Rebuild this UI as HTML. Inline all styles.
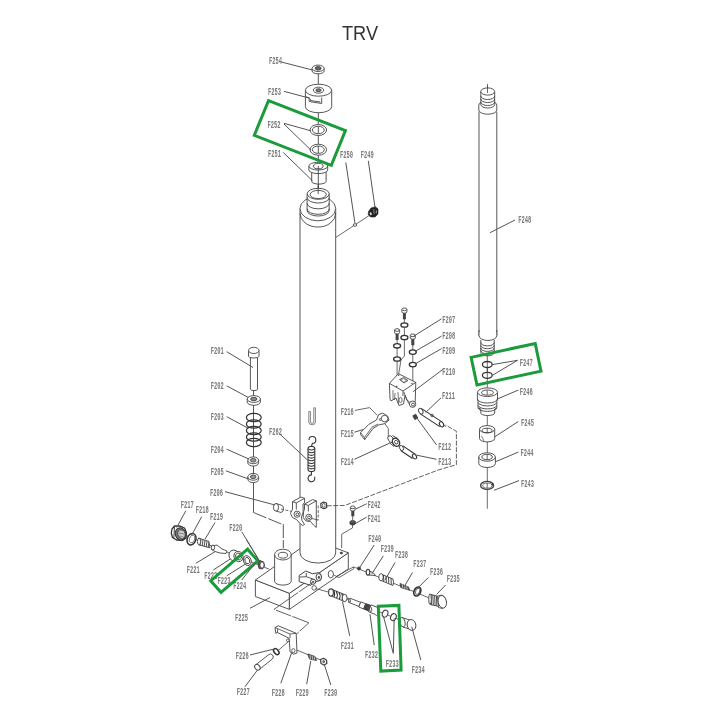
<!DOCTYPE html>
<html><head><meta charset="utf-8"><style>
html,body{margin:0;padding:0;background:#fff;width:720px;height:720px;overflow:hidden}
svg{display:block}
.lab text{font-family:"Liberation Mono",monospace;font-weight:bold;font-size:10.5px;fill:#7a7a7a}
</style></head><body>
<svg width="720" height="720" viewBox="0 0 720 720" style="will-change:transform">
<rect width="720" height="720" fill="#fff"/>
<text x="342" y="40.3" textLength="36" lengthAdjust="spacingAndGlyphs" style='font-family:"Liberation Sans",sans-serif;font-size:20.3px;fill:#333'>TRV</text>
<g class="lab">
<text x="269" y="64" textLength="13" lengthAdjust="spacingAndGlyphs">F254</text>
<text x="268" y="95" textLength="13" lengthAdjust="spacingAndGlyphs">F253</text>
<text x="267.5" y="127.5" textLength="13" lengthAdjust="spacingAndGlyphs">F252</text>
<text x="268" y="156.7" textLength="13" lengthAdjust="spacingAndGlyphs">F251</text>
<text x="340" y="158.3" textLength="13" lengthAdjust="spacingAndGlyphs">F250</text>
<text x="360.8" y="158.3" textLength="13" lengthAdjust="spacingAndGlyphs">F249</text>
<text x="518.3" y="223" textLength="13" lengthAdjust="spacingAndGlyphs">F248</text>
<text x="210.8" y="354" textLength="13" lengthAdjust="spacingAndGlyphs">F201</text>
<text x="210.8" y="389" textLength="13" lengthAdjust="spacingAndGlyphs">F202</text>
<text x="210.8" y="420" textLength="13" lengthAdjust="spacingAndGlyphs">F203</text>
<text x="210.8" y="452.5" textLength="13" lengthAdjust="spacingAndGlyphs">F204</text>
<text x="210.8" y="475" textLength="13" lengthAdjust="spacingAndGlyphs">F205</text>
<text x="210" y="495.8" textLength="13" lengthAdjust="spacingAndGlyphs">F206</text>
<text x="269" y="434.5" textLength="13" lengthAdjust="spacingAndGlyphs">F262</text>
<text x="442.2" y="322.9" textLength="13" lengthAdjust="spacingAndGlyphs">F207</text>
<text x="442.2" y="338.9" textLength="13" lengthAdjust="spacingAndGlyphs">F208</text>
<text x="442.2" y="354.2" textLength="13" lengthAdjust="spacingAndGlyphs">F209</text>
<text x="442.2" y="375" textLength="13" lengthAdjust="spacingAndGlyphs">F210</text>
<text x="442" y="399" textLength="13" lengthAdjust="spacingAndGlyphs">F211</text>
<text x="438.3" y="450.3" textLength="13" lengthAdjust="spacingAndGlyphs">F212</text>
<text x="438.3" y="464.5" textLength="13" lengthAdjust="spacingAndGlyphs">F213</text>
<text x="340.8" y="464.5" textLength="13" lengthAdjust="spacingAndGlyphs">F214</text>
<text x="340.8" y="436.7" textLength="13" lengthAdjust="spacingAndGlyphs">F215</text>
<text x="340.8" y="415" textLength="13" lengthAdjust="spacingAndGlyphs">F216</text>
<text x="519.7" y="365.8" textLength="13" lengthAdjust="spacingAndGlyphs">F247</text>
<text x="519.7" y="395" textLength="13" lengthAdjust="spacingAndGlyphs">F246</text>
<text x="521" y="426.4" textLength="13" lengthAdjust="spacingAndGlyphs">F245</text>
<text x="520.4" y="456.3" textLength="13" lengthAdjust="spacingAndGlyphs">F244</text>
<text x="521" y="486.8" textLength="13" lengthAdjust="spacingAndGlyphs">F243</text>
<text x="367.5" y="508.3" textLength="13" lengthAdjust="spacingAndGlyphs">F242</text>
<text x="367.5" y="521.7" textLength="13" lengthAdjust="spacingAndGlyphs">F241</text>
<text x="368.3" y="541.7" textLength="13" lengthAdjust="spacingAndGlyphs">F240</text>
<text x="380.8" y="551.7" textLength="13" lengthAdjust="spacingAndGlyphs">F239</text>
<text x="395" y="557.5" textLength="13" lengthAdjust="spacingAndGlyphs">F238</text>
<text x="413.3" y="566.7" textLength="13" lengthAdjust="spacingAndGlyphs">F237</text>
<text x="430" y="575" textLength="13" lengthAdjust="spacingAndGlyphs">F236</text>
<text x="446.7" y="581.7" textLength="13" lengthAdjust="spacingAndGlyphs">F235</text>
<text x="180.8" y="507.5" textLength="13" lengthAdjust="spacingAndGlyphs">F217</text>
<text x="195.8" y="513.3" textLength="13" lengthAdjust="spacingAndGlyphs">F218</text>
<text x="210" y="520" textLength="13" lengthAdjust="spacingAndGlyphs">F219</text>
<text x="229.2" y="530.8" textLength="13" lengthAdjust="spacingAndGlyphs">F220</text>
<text x="186.7" y="572.5" textLength="13" lengthAdjust="spacingAndGlyphs">F221</text>
<text x="204.2" y="579.2" textLength="13" lengthAdjust="spacingAndGlyphs">F222</text>
<text x="217.5" y="584.2" textLength="13" lengthAdjust="spacingAndGlyphs">F223</text>
<text x="233.3" y="589.2" textLength="13" lengthAdjust="spacingAndGlyphs">F224</text>
<text x="235" y="620.8" textLength="13" lengthAdjust="spacingAndGlyphs">F225</text>
<text x="235.8" y="659.2" textLength="13" lengthAdjust="spacingAndGlyphs">F226</text>
<text x="236.7" y="695" textLength="13" lengthAdjust="spacingAndGlyphs">F227</text>
<text x="271.7" y="695.8" textLength="13" lengthAdjust="spacingAndGlyphs">F228</text>
<text x="295.8" y="695.8" textLength="13" lengthAdjust="spacingAndGlyphs">F229</text>
<text x="324.2" y="695.8" textLength="13" lengthAdjust="spacingAndGlyphs">F230</text>
<text x="340.8" y="649.2" textLength="13" lengthAdjust="spacingAndGlyphs">F231</text>
<text x="365" y="658.3" textLength="13" lengthAdjust="spacingAndGlyphs">F232</text>
<text x="385.8" y="666.7" textLength="13" lengthAdjust="spacingAndGlyphs">F233</text>
<text x="411.7" y="673.3" textLength="13" lengthAdjust="spacingAndGlyphs">F234</text>
</g>
<g stroke="#444" stroke-width="0.9" fill="#fff" stroke-linejoin="round">
<!-- ===== axis lines top column ===== -->
<line x1="318.3" y1="72" x2="318.3" y2="194" fill="none"/>
<!-- F254 nut -->
<path d="M312.1,68.3 L312.1,71 A6,2.8 0 0 0 324.2,71 L324.2,68.3"/>
<ellipse cx="318.1" cy="68.3" rx="6" ry="3.2"/>
<ellipse cx="318.1" cy="68.3" rx="3" ry="1.8" fill="#666"/>
<!-- F253 -->
<path d="M305.4,90.2 L305.4,106.7 A13.1,6 0 0 0 331.7,106.7 L331.7,90.2"/>
<ellipse cx="318.5" cy="90.2" rx="13.1" ry="6"/>
<ellipse cx="318.5" cy="90.2" rx="5.2" ry="3"/>
<ellipse cx="318.5" cy="90.2" rx="2.6" ry="1.5" fill="#777"/>
<path d="M305.8,96.7 L309.2,97.9 L309.2,101.5 L321.7,103.5 L321.7,97.5" fill="none"/>
<path d="M310.5,99 L310.5,100.5 L320.3,102" fill="none"/>
<!-- F252 rings -->
<ellipse cx="318.3" cy="130" rx="8.3" ry="5.5"/>
<ellipse cx="318.3" cy="130" rx="6" ry="3.7"/>
<ellipse cx="318.3" cy="149.7" rx="8.3" ry="5.5"/>
<ellipse cx="318.3" cy="149.7" rx="6" ry="3.7"/>
<line x1="318.3" y1="126.5" x2="318.3" y2="133.5" fill="none"/>
<line x1="318.3" y1="146" x2="318.3" y2="153" fill="none"/>
<!-- F251 bushing -->
<path d="M311.7,170 L311.7,181.5 A7.2,2.6 0 0 0 326.1,181.5 L326.1,170"/>
<path d="M308.9,166.1 L308.9,170 A9.4,3.6 0 0 0 327.7,170 L327.7,166.1"/>
<ellipse cx="318.3" cy="166.1" rx="9.4" ry="3.9"/>
<ellipse cx="318.3" cy="166.1" rx="4.8" ry="2.7"/>
<line x1="318.3" y1="166" x2="318.3" y2="190" fill="none"/>
<!-- base block top -->
<polygon points="255.4,580 289.4,593.3 289.4,609.4 255.4,596.5"/>
<polygon points="289.4,593.3 348.3,552.8 348.3,568.8 289.4,609.4"/>
<polygon points="255.4,580 313,539.5 348.3,552.8 289.4,593.3"/>
<!-- small top hole -->
<ellipse cx="341.3" cy="553" rx="1.2" ry="0.9" fill="#444"/>
<!-- ===== main cylinder ===== -->
<path d="M300,208.5 L300,553 A17.8,10 0 0 0 335.7,553 L335.7,208.5"/>
<path d="M300,208.5 A17.8,12 0 0 1 335.7,208.5 A17.8,12.3 0 0 1 300,208.5 Z"/>
<path d="M300,213.3 A17.8,13.7 0 0 0 335.7,213.3" fill="none"/>
<!-- thread -->
<path d="M307.1,193.8 L307.1,210.5 A11,5.5 0 0 0 329.2,210.5 L329.2,193.8"/>
<path d="M307.1,197.5 A11,5.5 0 0 0 329.2,197.5" fill="none"/>
<path d="M307.1,203.3 A11,5.5 0 0 0 329.2,203.3" fill="none"/>
<path d="M307.1,208.8 A11,5.5 0 0 0 329.2,208.8" fill="none"/>
<ellipse cx="318.2" cy="193.8" rx="11" ry="5.5"/>
<ellipse cx="318.2" cy="194.5" rx="8.1" ry="4.1"/>
<line x1="318.2" y1="186" x2="318.2" y2="194" fill="none"/>
<!-- F250/F249 line -->
<polyline points="335.7,237.5 370,215" fill="none" stroke-width="0.8"/>
<ellipse cx="355" cy="225" rx="1.8" ry="1.3"/>
<!-- F249 fitting -->
<path d="M368.5,211.5 L371,208 L375.5,206.8 L378,209 L378,214 L375,217 L370.5,217 L368.2,214.5 Z" fill="#222" stroke="#222" stroke-width="0.6"/>
<path d="M369.5,213 L371,212 L372,214.5 L370.5,215.5 Z" fill="#ddd" stroke="none"/>
<path d="M372.5,209.5 L374.5,208.8 L375.5,213.5 L373.5,214.5 Z" fill="#555" stroke="none"/>
<path d="M376,210 L377,211 L376.5,214 L375.8,213 Z" fill="#999" stroke="none"/>
</g>
<g stroke="#444" stroke-width="0.9" fill="#fff" stroke-linejoin="round">
<!-- ===== left column F201-F206 ===== -->
<line x1="253.5" y1="390" x2="253.5" y2="512.5" fill="none"/>
<polyline points="253.5,512.5 281.7,524.2 283.3,524.2 283.3,548" fill="none" stroke-dasharray="14,2"/>
<!-- F201 -->
<path d="M250.4,356 L250.4,389.2 A3.55,1.4 0 0 0 257.5,389.2 L257.5,356"/>
<path d="M248.5,350.4 L248.5,356.2 A5.2,1.8 0 0 0 259,356.2 L259,350.4"/>
<ellipse cx="253.75" cy="350.4" rx="5.2" ry="3.1"/>
<!-- F202 -->
<path d="M247.2,399 L247.2,402 A6.6,3.3 0 0 0 260.4,402 L260.4,399"/>
<ellipse cx="253.8" cy="399" rx="6.6" ry="3.4"/>
<ellipse cx="253.8" cy="399" rx="3.2" ry="1.7" fill="#888"/>
<!-- F203 spring -->
<g fill="none" stroke-width="1.2" stroke="#333">
<ellipse cx="253.8" cy="417.5" rx="7.4" ry="4.2"/>
<ellipse cx="253.8" cy="424" rx="7.4" ry="4.2"/>
<ellipse cx="253.8" cy="430.5" rx="7.4" ry="4.2"/>
<ellipse cx="253.8" cy="437" rx="7.4" ry="4.2"/>
<ellipse cx="253.8" cy="442.5" rx="7.4" ry="4.2"/>
</g>
<!-- F204 -->
<path d="M247.8,460.3 L247.8,462.8 A5.4,3.3 0 0 0 258.6,462.8 L258.6,460.3"/>
<ellipse cx="253.2" cy="460.3" rx="5.4" ry="3.4"/>
<ellipse cx="253.2" cy="460.3" rx="2.8" ry="1.8" fill="#999"/>
<!-- F205 -->
<path d="M247.8,476.8 L247.8,479.3 A5.4,3.3 0 0 0 258.6,479.3 L258.6,476.8"/>
<ellipse cx="253.2" cy="476.8" rx="5.4" ry="3.4"/>
<ellipse cx="253.2" cy="476.8" rx="2.8" ry="1.8" fill="#999"/>
<!-- F206 pin -->
<path d="M276,503.5 L281,505 A3,3.8 0 0 1 281,512.5 L276,511 Z"/>
<ellipse cx="276" cy="507.3" rx="2.6" ry="3.8"/>
<!-- clip -->
<path d="M308.8,411.5 L308.8,422 A3.3,2.8 0 0 0 315.4,422 L315.4,407.8 L313.8,407.8 L313.8,422 A1.7,1.4 0 0 1 310.4,422 L310.4,411.5 Z" fill="#fff" stroke="#666" stroke-width="0.8"/>
<!-- F262 spring -->
<path d="M311.4,446.5 L312.4,443.3 A3.4,3.4 0 1 0 309,439.9" fill="none" stroke-width="1.1" stroke="#333"/>
<path d="M311.4,471.5 L311.4,474.9 A3.4,3.4 0 1 0 314.5,476.8" fill="none" stroke-width="1.1" stroke="#333"/>
<rect x="308" y="446.5" width="6.8" height="25" rx="2.5" fill="#fff" stroke="#333" stroke-width="1.1"/>
<g fill="none" stroke="#333" stroke-width="1.1">
<path d="M308.2,449 Q311.4,451 314.6,449 M308.2,451.7 Q311.4,453.7 314.6,451.7 M308.2,454.4 Q311.4,456.4 314.6,454.4 M308.2,457.1 Q311.4,459.1 314.6,457.1 M308.2,459.8 Q311.4,461.8 314.6,459.8 M308.2,462.5 Q311.4,464.5 314.6,462.5 M308.2,465.2 Q311.4,467.2 314.6,465.2 M308.2,467.9 Q311.4,469.9 314.6,467.9"/>
</g>
</g>

<g stroke="#444" stroke-width="0.9" fill="#fff" stroke-linejoin="round">
<!-- ===== base block F225 ===== -->
<!-- right face hole -->
<ellipse cx="330.8" cy="574.2" rx="2.6" ry="3.7"/>
<!-- axis double line into right face -->
<polygon points="336.3,576.4 353.3,567 353.8,568.7 338.9,577.6" fill="none" stroke-width="0.8"/>
<polyline points="336.3,576.4 333.2,574.5" fill="none" stroke-width="0.8"/>
<!-- post -->
<path d="M274.6,554.6 L274.6,581.3 A8.3,3.8 0 0 0 291.2,581.3 L291.2,554.6"/>
<ellipse cx="282.9" cy="554.6" rx="8.3" ry="5.4"/>
<ellipse cx="282.9" cy="555.2" rx="4.6" ry="2.9"/>
<!-- small bracket on right face -->
<path d="M299.2,575.4 L305.8,571 L312.5,573.75 L318.3,572.7 L320.4,573.75 L321.7,577.1 L320.4,580.4 L317.5,581.25 L314,582 L310.8,585.4 L299.2,581.7 Z" stroke-width="1"/>
<path d="M299.6,577.1 L306.25,576.7 L312.9,579 M306.25,572.9 L306.25,576.7" fill="none" stroke-width="0.9"/>
<ellipse cx="318.75" cy="577.1" rx="2.7" ry="3.5" stroke-width="1"/>
<ellipse cx="318.9" cy="577.3" rx="1.1" ry="1.6" fill="#555" stroke="none"/>
<circle cx="313.1" cy="581.7" r="2.6" stroke-width="1"/>
<circle cx="313.2" cy="581.9" r="1.1" fill="#555" stroke="none"/>
<circle cx="314.2" cy="587.9" r="2.3" stroke-width="0.8"/>
<!-- dashed leader to F228 -->
<polyline points="312.3,582.5 274,609.4 308.9,622.8 296.7,633.9" fill="none" stroke-width="0.85" stroke-dasharray="16,1.5,30,1.5"/>
<!-- F228 bracket -->
<path d="M275,627.5 L278.3,625.8 L296.2,633.3 L297,653 L293.5,654.2 L290,651.7 L289.2,638.3 L277.5,632.5 L275.8,633.3 Z"/>
<path d="M275,627.5 L277.5,628.6 L277.5,632.5 M277.5,628.6 L290,634 L290,638" fill="none" stroke-width="0.8"/>
<path d="M290,634 L296.2,633.3" fill="none" stroke-width="0.8"/>
<circle cx="287.8" cy="640.4" r="1.4" fill="none" stroke-width="0.8"/>
<ellipse cx="293.3" cy="650.6" rx="1.7" ry="2" fill="none" stroke-width="0.8"/>
</g>
<g stroke="#444" stroke-width="0.9" fill="#fff" stroke-linejoin="round">
<!-- ===== left valve F217-F224 axis ===== -->
<line x1="180" y1="533" x2="269.2" y2="569.2" fill="none" stroke-width="0.8"/>
<!-- F217 hex plug -->
<path d="M172,529 L174.5,526 L179.5,525.8 L184.5,528 L186.4,532.5 L186,538 L182.5,540.4 L176.5,540 L172.5,537.5 L171.3,533 Z" stroke="#333" stroke-width="1.3"/>
<ellipse cx="180.5" cy="534" rx="5.2" ry="6.2" transform="rotate(-15 180.5 534)" fill="#777" stroke="#333" stroke-width="1"/>
<ellipse cx="181.5" cy="534" rx="3.6" ry="4.8" transform="rotate(-15 181.5 534)" fill="#ccc" stroke="#444" stroke-width="0.8"/>
<g fill="none" stroke="#555" stroke-width="0.6"><path d="M179.5,530 L183.5,531 M179,533 L184,534 M179,536 L183.5,537"/></g>
<path d="M174.5,527 L173.8,539" fill="none" stroke="#333" stroke-width="0.9"/>
<!-- F218 o-ring -->
<ellipse cx="191.5" cy="539.2" rx="4.3" ry="5.9" transform="rotate(20 191.5 539.2)" stroke="#333" stroke-width="1.5"/>
<ellipse cx="192" cy="539" rx="2.6" ry="4" transform="rotate(20 192 539)" stroke="#555" stroke-width="0.7"/>
<!-- F219 spring -->
<path d="M198.5,538 L209,541.5 L210,547.8 L199,545 Z" stroke-width="0.9"/>
<g fill="none" stroke-width="0.9"><path d="M200,538.5 L200.8,545.3 M202,539.2 L202.8,546 M204,539.9 L204.8,546.6 M206,540.6 L206.8,547.1 M208,541.2 L208.8,547.6"/></g>
<ellipse cx="199" cy="541.5" rx="1.5" ry="3.5"/>
<!-- F221 poppet -->
<path d="M212,546 L217,545 L222,549 L227,551 L226,553.5 L220,553 L215,551.5 L211.5,549.5 Z"/>
<ellipse cx="213" cy="547.5" rx="1.6" ry="2.5"/>
<!-- F222 -->
<ellipse cx="234" cy="555.5" rx="5" ry="5.5" transform="rotate(-20 234 555.5)"/>
<ellipse cx="238.5" cy="556.5" rx="4.5" ry="5.2" transform="rotate(-20 238.5 556.5)"/>
<ellipse cx="238.5" cy="556.5" rx="2.8" ry="3.5" transform="rotate(-20 238.5 556.5)" fill="none"/>
<!-- F223 ring -->
<ellipse cx="247.3" cy="560.6" rx="3.8" ry="5" transform="rotate(-20 247.3 560.6)"/>
<ellipse cx="247.3" cy="560.6" rx="2.3" ry="3.3" transform="rotate(-20 247.3 560.6)" fill="none"/>
<!-- F220 nut -->
<path d="M257.5,562 L260,560.5 L263.7,562 L264.5,566 L262.5,569 L259,568.5 Z" fill="#555"/>
<ellipse cx="262" cy="565" rx="2" ry="3" fill="#fff" stroke-width="0.7"/>

<!-- ===== F226-F230 ===== -->
<line x1="276.7" y1="651.7" x2="288.3" y2="641.7" fill="none" stroke-width="0.8"/>
<line x1="296.7" y1="650" x2="326.7" y2="662.5" fill="none" stroke-width="0.8"/>
<!-- F226 washer -->
<ellipse cx="276.3" cy="651.6" rx="2.1" ry="3.4" transform="rotate(-40 276.3 651.6)" stroke-width="1.5" stroke="#333"/>
<!-- F227 pin -->
<path d="M255.5,665 L268.5,654.8 A2.7,2.7 0 0 1 272.3,659 L259.3,669.5 Z"/>
<ellipse cx="257.4" cy="667.2" rx="2.4" ry="3.1" transform="rotate(-40 257.4 667.2)" stroke-width="1"/>
<!-- F229 screw -->
<path d="M307.8,654 L315,656.5 L316.5,660.5 L309.5,659 Z" fill="#555"/>
<g fill="none" stroke="#fff" stroke-width="0.6"><path d="M310,655 L310.5,659 M312.2,655.8 L312.7,659.6 M314.3,656.5 L314.8,660"/></g>
<!-- F230 nut -->
<path d="M320.5,659.5 L323.5,658.3 L326.5,660 L326.8,663.5 L324,665 L321,663.5 Z" stroke-width="1.3"/>
<ellipse cx="323.7" cy="661.6" rx="1.3" ry="1.6" fill="#666" stroke="none"/>

<!-- ===== upper right valve F235-F240 ===== -->
<polyline points="353.3,567 355.5,567.6 430,598.3" fill="none" stroke-width="0.8"/>
<!-- F240 ball -->
<circle cx="359" cy="568.5" r="1.6" fill="#333"/>
<!-- F239 seat -->
<path d="M367,570 L373,572.5 L375.5,575.5 L368.5,575 Z"/>
<ellipse cx="368" cy="572.2" rx="1.8" ry="2.9" stroke-width="1.2"/>
<!-- F238 spring -->
<path d="M381,574 L393,579 A2.5,5.8 0 0 1 393,585.5 L381,580.5 Z"/>
<ellipse cx="381" cy="577.2" rx="2.2" ry="3.6"/>
<g fill="none" stroke-width="1"><path d="M383.5,575 L383.8,581.5 M386,576 L386.3,582.5 M388.5,577 L388.8,583.5 M391,578 L391.3,584.5"/></g>
<!-- F237 -->
<path d="M400,583.5 L408.5,587 L409.5,590.3 L400.8,587.5 Z" fill="#555"/>
<g fill="none" stroke="#fff" stroke-width="0.6"><path d="M402.3,584.3 L402.8,588 M404.5,585.2 L405,589 M406.7,586.1 L407.2,589.7"/></g>
<!-- F236 o-ring -->
<ellipse cx="417.3" cy="591.5" rx="3.2" ry="4.7" transform="rotate(25 417.3 591.5)" stroke-width="1.7" stroke="#333"/>
<ellipse cx="417.6" cy="591.4" rx="1.9" ry="3.2" transform="rotate(25 417.6 591.4)" fill="none" stroke-width="0.7"/>
<!-- F235 plug -->
<path d="M429.5,594 L438.5,596.5 L439,606.5 L430,604.5 Z" fill="#fff"/>
<g fill="none" stroke-width="0.9" stroke="#333"><path d="M431,594.5 L431.5,604.8 M432.8,595 L433.3,605.2 M434.6,595.5 L435.1,605.6 M436.4,596 L436.9,606"/></g>
<ellipse cx="430" cy="599.2" rx="1.3" ry="5"/>
<path d="M437.5,596.2 L441,595.2 A4.2,6.5 0 0 1 442,608.4 L438.5,607.5 Z"/>
<ellipse cx="442.3" cy="601.8" rx="4.1" ry="6.4" transform="rotate(-12 442.3 601.8)"/>
<!-- ===== lower right valve F231-F234 ===== -->
<line x1="345" y1="598" x2="400" y2="620" fill="none" stroke-width="0.8"/>
<!-- F231 spring -->
<line x1="315.5" y1="588.5" x2="330" y2="592.5" fill="none" stroke-width="0.8"/>
<path d="M331,589 L344.5,594.5 A3,6.2 0 0 1 344.5,601.5 L331,596 Z"/>
<ellipse cx="331" cy="592.5" rx="2.4" ry="3.6" stroke-width="1.1"/>
<g fill="none" stroke-width="1.1" stroke="#333"><path d="M333.5,590 Q335.5,593 334,597 M336.2,591.1 Q338.2,594.1 336.7,598.1 M338.9,592.2 Q340.9,595.2 339.4,599.2 M341.6,593.3 Q343.6,596.3 342.1,600.3"/></g>
<ellipse cx="344.6" cy="598" rx="2.5" ry="3.6" stroke-width="1"/>
<!-- F232 stem -->
<path d="M350.1,598.25 L360.6,602.35 L359,606.45 L348.5,602.35 Z"/>
<ellipse cx="349.3" cy="600.3" rx="0.9" ry="2.2" transform="rotate(-20 349.3 600.3)"/>
<path d="M360.8,601.8 L365.7,603.8 L363.7,609 L358.8,607 Z"/>
<path d="M365.8,603.6 L370.7,605.5 L368.5,610.9 L363.6,609 Z" fill="#666"/>
<g fill="none" stroke="#222" stroke-width="0.7"><path d="M366.8,604 L364.7,609.4 M368,604.5 L365.9,609.9 M369.2,605 L367.1,610.4"/></g>
<path d="M370.9,604.8 L377.7,607.5 A1.6,3.7 0 0 1 375.1,614.3 L368.3,611.6 Z"/>
<ellipse cx="370" cy="608.2" rx="1.3" ry="3.6" transform="rotate(-20 370 608.2)" fill="none" stroke-width="0.8"/>
<!-- F233 rings -->
<ellipse cx="385.1" cy="613.7" rx="2.7" ry="3.6" transform="rotate(20 385.1 613.7)" stroke-width="1.1"/>
<ellipse cx="393.4" cy="617.2" rx="2.7" ry="3.6" transform="rotate(20 393.4 617.2)" stroke-width="1.1"/>
<!-- F234 cap -->
<path d="M402,617.5 L411,620.5 A4.5,6.5 0 0 1 412,630 L403,627 Z"/>
<ellipse cx="402.5" cy="622.2" rx="2.5" ry="4.8" transform="rotate(-10 402.5 622.2)"/>
<ellipse cx="411.5" cy="625" rx="4.3" ry="5.5" transform="rotate(-15 411.5 625)"/>
</g>
<g stroke="#444" stroke-width="0.9" fill="#fff" stroke-linejoin="round">
<!-- F241/F242 -->
<polyline points="352.5,525 352.5,527.9 341.7,534.2 341.7,548" fill="none" stroke-width="0.8"/>
<rect x="351.3" y="510.5" width="3" height="5.8" fill="#444" stroke="none"/>
<path d="M350.4,507.3 L350.4,509.8 A2.3,1.2 0 0 0 355,509.8 L355,507.3" />
<ellipse cx="352.7" cy="507.3" rx="2.3" ry="1.3"/>
<line x1="352.7" y1="516" x2="352.7" y2="520" fill="none" stroke-width="0.8"/>
<path d="M350,522 L350,523.5 A2.7,1.5 0 0 0 355.4,523.5 L355.4,522" fill="#333"/>
<ellipse cx="352.7" cy="522" rx="2.7" ry="1.5" fill="#555"/>
<!-- dashed line cylinder to F211 -->
<polyline points="326.7,505.8 345,505.4 438.3,470 456.4,464.7 456.4,431.3 445.6,425" fill="none" stroke-width="0.85" stroke-dasharray="5,1.5"/>
<!-- clevis on cylinder -->
<line x1="281" y1="509" x2="291" y2="511.3" fill="none" stroke-width="0.8" stroke-dasharray="3,1.5"/>
<!-- right plate (behind) -->
<path d="M304.5,504.2 L312.5,499.6 L316.3,500.8 L316.3,527.5 L313.5,525 L310.5,521.5 L306,521 L303.2,517.5 L303.5,512 L304.5,509 Z"/>
<path d="M304.5,504.2 L308.3,505.4 L316.3,500.8 M308.3,505.4 L308.3,511.5" fill="none"/>
<circle cx="308.8" cy="517.3" r="3.1"/>
<circle cx="309" cy="517.4" r="1.4" fill="none"/>
<!-- left plate -->
<path d="M292.5,501.7 L300.8,497.1 L304.6,498.3 L304.6,503 L303,504 L303.2,512 L301.5,517 L302,520.5 L304.5,524.5 L302.5,525.5 L299.5,523 L296.5,519.5 L292.5,517.5 L290.5,513.5 L292.5,509 Z"/>
<path d="M292.5,501.7 L296.3,502.9 L304.6,498.3 M296.3,502.9 L296.3,509.5" fill="none"/>
<circle cx="297.1" cy="514.2" r="3.1"/>
<circle cx="297.3" cy="514.3" r="1.4" fill="none"/>
<line x1="312" y1="518.5" x2="318" y2="520" fill="none" stroke-width="0.8"/>
<polyline points="318.2,505.5 318.2,520.5" fill="none" stroke-width="0.8" stroke-dasharray="3,1.5"/>
<!-- F206 side nut -->
<path d="M320.8,503.5 L323.5,502 L326.5,503 L326.8,507.5 L324,508.8 L321,507.6 Z" stroke="#333" stroke-width="1.1"/>
<ellipse cx="323.8" cy="505.4" rx="1.4" ry="2" fill="none" stroke-width="0.8"/>
<!-- ===== right rod F248 ===== -->
<line x1="487.5" y1="83.9" x2="487.5" y2="92.2" fill="none" stroke-width="0.8"/>
<path d="M479,111.7 L479,335 A8.9,5 0 0 0 496.8,335 L496.8,111.7"/>
<path d="M478.8,105 L478.8,110 A9,4.2 0 0 0 496.8,110 L496.8,105"/>
<path d="M478.8,105 A9,4.2 0 0 1 496.8,105" fill="none"/>
<path d="M480.8,91.5 L480.8,104.5 A6.9,3.5 0 0 0 494.7,104.5 L494.7,91.5"/>
<g fill="none"><path d="M480.8,96 A6.9,3.5 0 0 0 494.7,96 M480.8,99 A6.9,3.5 0 0 0 494.7,99 M480.8,102 A6.9,3.5 0 0 0 494.7,102"/></g>
<ellipse cx="487.7" cy="91.5" rx="6.9" ry="3.6"/>
<line x1="487.5" y1="86" x2="487.5" y2="93" fill="none" stroke-width="0.8"/>
<!-- bottom thread of rod -->
<path d="M480.8,340 L480.8,352.5 A6.7,3.4 0 0 0 494.2,352.5 L494.2,340"/>
<g fill="none"><path d="M480.8,342.5 A6.7,3.4 0 0 0 494.2,342.5 M480.8,345.3 A6.7,3.4 0 0 0 494.2,345.3 M480.8,348 A6.7,3.4 0 0 0 494.2,348 M480.8,350.5 A6.7,3.4 0 0 0 494.2,350.5"/></g>
<path d="M479,332 L479,336 A8.9,5 0 0 0 496.8,336 L496.8,332" stroke="none"/>
<path d="M479,330 L479,335.5 A8.9,5 0 0 0 496.8,335.5 L496.8,330" fill="none"/>
<line x1="487.3" y1="354" x2="487.3" y2="508.7" fill="none" stroke-width="0.8"/>
<!-- F247 rings -->
<ellipse cx="487.3" cy="364.5" rx="4.9" ry="3" stroke-width="1.3" stroke="#333"/>
<ellipse cx="487.3" cy="375.3" rx="4.9" ry="3" stroke-width="1.3" stroke="#333"/>
<line x1="487.3" y1="362" x2="487.3" y2="378" fill="none" stroke-width="0.8"/>
<!-- F246 -->
<path d="M477.4,392.2 L477.4,399 L478,401.5 L478,408 L480.8,409 L480.8,413 A6.9,2.5 0 0 0 494.7,413 L494.7,409 L496.8,408 L496.8,401.5 L497.5,399 L497.5,392.2"/>
<g fill="none"><path d="M477.4,399 A10,4 0 0 0 497.5,399 M478,402.5 A9.5,4 0 0 0 496.8,402.5 M478,405.5 A9.5,4 0 0 0 496.8,405.5 M478,408 A9.5,4 0 0 0 496.8,408"/></g>
<ellipse cx="487.5" cy="392.2" rx="10" ry="4.3"/>
<ellipse cx="487.5" cy="392.6" rx="6" ry="2.6"/>
<!-- F245 -->
<path d="M479.5,429.2 L479.5,438.5 A7.6,3.4 0 0 0 494.7,438.5 L494.7,429.2"/>
<ellipse cx="487.1" cy="429.2" rx="7.6" ry="3.6"/>
<ellipse cx="487.1" cy="430.5" rx="5" ry="2.3" fill="none"/>
<path d="M481.5,436 L484,441" fill="none" stroke-width="0.7"/>
<!-- F244 -->
<path d="M478.8,457 L478.8,463.5 A8.3,4 0 0 0 495.4,463.5 L495.4,457"/>
<ellipse cx="487.1" cy="457" rx="8.3" ry="4.2"/>
<ellipse cx="487.1" cy="457" rx="5.3" ry="2.7"/>
<g fill="none" stroke-width="0.8"><path d="M487.2,390.3 L487.2,395 M487.2,428 L487.2,432.8 M487.2,454.5 L487.2,459.7"/></g>
<!-- F243 snap ring -->
<ellipse cx="487.1" cy="485.4" rx="6.5" ry="4" stroke-width="1.4"/>
<ellipse cx="487.3" cy="485.6" rx="4.6" ry="2.6" stroke-width="0.8"/>
<circle cx="492.5" cy="484.5" r="1" fill="#333" stroke="none"/>
<line x1="487.2" y1="483" x2="487.2" y2="488" fill="none" stroke-width="0.8"/>
</g>
<g stroke="#444" stroke-width="0.9" fill="#fff" stroke-linejoin="round">
<!-- ===== F207-F211 ===== -->
<line x1="404.4" y1="319" x2="404.4" y2="338" fill="none" stroke-width="0.8"/>
<polyline points="404.4,340 404.4,356 401,360 398.5,375" fill="none" stroke-width="0.8"/>
<line x1="397.1" y1="340" x2="397.1" y2="386" fill="none" stroke-width="0.8"/>
<line x1="412.8" y1="345" x2="412.8" y2="383" fill="none" stroke-width="0.8"/>
<!-- screws -->
<g>
<rect x="402.9" y="312.5" width="3" height="6.8" fill="#444" stroke="none"/>
<path d="M401.9,309.3 L401.9,312 A2.5,1.2 0 0 0 406.9,312 L406.9,309.3"/>
<ellipse cx="404.4" cy="309.3" rx="2.5" ry="1.3"/>
<rect x="395.6" y="333.2" width="3" height="6.8" fill="#444" stroke="none"/>
<path d="M394.6,330 L394.6,332.8 A2.5,1.2 0 0 0 399.6,332.8 L399.6,330"/>
<ellipse cx="397.1" cy="330" rx="2.5" ry="1.3"/>
<rect x="411.3" y="338.5" width="3" height="6.8" fill="#444" stroke="none"/>
<path d="M410.3,335.3 L410.3,338 A2.5,1.2 0 0 0 415.3,338 L415.3,335.3"/>
<ellipse cx="412.8" cy="335.3" rx="2.5" ry="1.3"/>
</g>
<g stroke-width="1.3" stroke="#333">
<ellipse cx="404.4" cy="325" rx="3.5" ry="2.2"/>
<ellipse cx="404.4" cy="337.5" rx="3.5" ry="2.2"/>
<ellipse cx="397.1" cy="345.8" rx="3.5" ry="2.2"/>
<ellipse cx="397.1" cy="359" rx="3.5" ry="2.2"/>
<ellipse cx="412.8" cy="352.1" rx="3.5" ry="2.2"/>
<ellipse cx="412.8" cy="364.6" rx="3.5" ry="2.2"/>
</g>
<!-- F210 block -->
<path d="M389.4,383.4 L398.4,373.7 L415.8,382.4 L415.2,401.5 L413,405 L407,400 L405,395.5 L403.5,404 L399,405.5 L397.5,402 L396,398 L391,401 L390,399 Z"/>
<path d="M389.4,383.4 L403,391 L415.8,382.4 M403,391 L403,396" fill="none"/>
<path d="M393,390 L393,399.5 M395,393 L394.5,400 M398,392 L398.5,404" fill="none" stroke-width="0.7"/>
<path d="M404,392 Q406,399 409,404 Q411,407 413,405" fill="none" stroke-width="0.8"/>
<ellipse cx="400.5" cy="400" rx="1.6" ry="2.6" fill="none" stroke-width="0.8"/>
<path d="M399.5,379.5 L403.5,377.5 L408,380.5 L404,383 Z" fill="none" stroke-width="0.8"/>
<path d="M400.5,380 L403.5,378.6 L406.5,380.6 L403.8,382.2 Z" fill="none" stroke-width="0.6"/>
<circle cx="398.6" cy="375.2" r="0.7" fill="#444" stroke="none"/>
<circle cx="396.7" cy="386.5" r="0.7" fill="#444" stroke="none"/>
<circle cx="412" cy="383.4" r="0.7" fill="#444" stroke="none"/>
<circle cx="412.6" cy="404.2" r="3.2"/>
<circle cx="413" cy="404.5" r="1.5" fill="none"/>
<!-- F211 pin -->
<path d="M420.6,409 L441,422 L444.4,426.7 L440.8,427 L420.6,414.2 L419.5,411.5 Z" stroke="none"/>
<path d="M421.2,408.4 L441.5,421.6 M420.3,413.9 L439.8,426.6" fill="none" stroke="#333" stroke-width="1.1"/>
<ellipse cx="420.8" cy="411.2" rx="2" ry="3" transform="rotate(-30 420.8 411.2)"/>
<ellipse cx="441.5" cy="424.3" rx="1.9" ry="2.8" transform="rotate(-30 441.5 424.3)" stroke="#333" stroke-width="1.1"/>
<circle cx="432.1" cy="415.5" r="1.3" fill="none" stroke-width="0.8"/>
<line x1="443.5" y1="425" x2="446" y2="426.5" fill="none" stroke-width="0.8"/>
<!-- F212 screw -->
<path d="M412.8,415.8 L415.8,414.2 L417.8,418 L414.8,419.6 Z" fill="#444"/>
<!-- F213 pin -->
<path d="M401.3,446.5 L414,455 L415.5,458 L411.5,458.5 L400.8,451 Z" stroke="none"/>
<path d="M402.5,445.6 L415.2,454.3 M400.6,450.5 L412.6,458.5" fill="none" stroke="#333" stroke-width="1.1"/>
<ellipse cx="401.5" cy="448" rx="1.8" ry="2.7" transform="rotate(-35 401.5 448)" fill="none"/>
<ellipse cx="414.5" cy="456.5" rx="1.8" ry="2.6" transform="rotate(-35 414.5 456.5)" stroke="#333" stroke-width="1.1"/>
<!-- F214 roller -->
<path d="M388.6,439 L392.5,435.6 L398.8,440 L395,447 Z" stroke="none"/>
<path d="M392.5,435.5 L397.5,438.3 M389.3,442.6 L394,446.6" fill="none"/>
<ellipse cx="390.8" cy="439.2" rx="2.5" ry="3.8" transform="rotate(-35 390.8 439.2)"/>
<ellipse cx="396" cy="442.2" rx="3.3" ry="4.3" transform="rotate(-35 396 442.2)" stroke-width="1.4" stroke="#333"/>
<ellipse cx="396.2" cy="442.2" rx="1.5" ry="2" transform="rotate(-35 396.2 442.2)" fill="none"/>
<!-- wire F215 to F214 -->
<polyline points="384.9,423.6 388.3,428.5 388.3,437" fill="none" stroke-width="0.8"/>
<!-- F215 lever -->
<path d="M360.6,432.6 L368.9,424.3 L376.5,420 L378.6,414.6 L382.8,413.2 L387.6,416 L389,420.1 L384.9,423.6 L378.6,425 L373,428.5 L364.7,439.6 L360.6,434.7 Z"/>
<path d="M360.6,432.6 L364.5,437.5 L364.7,439.6 M364.5,437.5 L372,427.2 L378,424" fill="none" stroke-width="0.8"/>
<circle cx="384.6" cy="418.6" r="3.3"/>
<circle cx="380.3" cy="419.5" r="1" fill="none" stroke-width="0.8"/>
<!-- F216 pin wire -->
<polyline points="355,410.4 369.6,407.6 377.2,415.3" fill="none" stroke-width="0.8"/>
</g>
<!-- ===== green boxes ===== -->
<g fill="none" stroke="#1a9b3c" stroke-width="3" stroke-linejoin="miter">
<polygon points="268.5,100.6 345.4,130.5 331.3,165.4 254.3,135.3"/>
<polygon points="471.1,357.4 535.2,343.5 541,371.1 477,385"/>
<polygon points="210.7,580.8 247.6,549.2 257.8,560.9 221,592.3"/>
<polygon points="378.3,606.3 398.9,605.4 401.1,670 380.8,671.1"/>
</g>

<g stroke="#555" stroke-width="1" fill="none">
<line x1="281.3" y1="62" x2="312.5" y2="70"/>
<line x1="284" y1="91.3" x2="310" y2="98.3"/>
<line x1="284" y1="123.3" x2="310.8" y2="130.8"/>
<line x1="284" y1="124" x2="310.8" y2="150"/>
<line x1="283.3" y1="152.5" x2="312.5" y2="180.8"/>
<line x1="345.8" y1="162.5" x2="355" y2="223.3"/>
<line x1="368.3" y1="160.8" x2="375" y2="207.5"/>
<line x1="515" y1="220" x2="490" y2="232.7"/>
<line x1="226.7" y1="351.7" x2="253" y2="367.5"/>
<line x1="226.7" y1="385.8" x2="248.3" y2="397.5"/>
<line x1="226.7" y1="416.7" x2="248.3" y2="428.3"/>
<line x1="226.7" y1="449.2" x2="249.2" y2="459.2"/>
<line x1="225.8" y1="470.8" x2="249.2" y2="479.2"/>
<line x1="225" y1="491.7" x2="275" y2="505"/>
<line x1="280" y1="434.2" x2="307.5" y2="460"/>
<line x1="441.5" y1="318.8" x2="413.8" y2="336.1"/>
<line x1="441.5" y1="336.1" x2="415.1" y2="351.4"/>
<line x1="441.5" y1="348.6" x2="415.1" y2="363.9"/>
<line x1="442.9" y1="369.4" x2="413.1" y2="391.7"/>
<line x1="441" y1="397.9" x2="425.7" y2="412.4"/>
<line x1="436.5" y1="444.9" x2="416.7" y2="417.8"/>
<line x1="436.5" y1="459.3" x2="414.9" y2="454.8"/>
<line x1="354.4" y1="459.3" x2="389.6" y2="443.1"/>
<line x1="354.4" y1="432.2" x2="363.4" y2="429.5"/>
<line x1="517.6" y1="360.3" x2="491.9" y2="364.7"/>
<line x1="517.6" y1="360.3" x2="491.9" y2="375.6"/>
<line x1="518.3" y1="390.1" x2="496.8" y2="399.2"/>
<line x1="518.3" y1="421.5" x2="494.7" y2="436.8"/>
<line x1="518.3" y1="452.1" x2="495.4" y2="461.8"/>
<line x1="519" y1="480.6" x2="494" y2="490.3"/>
<line x1="374.2" y1="545" x2="359.2" y2="568.3"/>
<line x1="383.3" y1="555.8" x2="371.7" y2="574.2"/>
<line x1="395" y1="562.5" x2="385" y2="580"/>
<line x1="412.5" y1="572.5" x2="404.2" y2="586.7"/>
<line x1="428.3" y1="577.5" x2="416.7" y2="589.2"/>
<line x1="185.8" y1="510.8" x2="176.7" y2="527.5"/>
<line x1="201.7" y1="516.7" x2="191.7" y2="535"/>
<line x1="215" y1="522.5" x2="205" y2="539.2"/>
<line x1="241.7" y1="531.7" x2="260" y2="561.7"/>
<line x1="195.8" y1="563.3" x2="215" y2="551.7"/>
<line x1="213.3" y1="570" x2="230" y2="559.2"/>
<line x1="226.7" y1="575.8" x2="246.7" y2="563.3"/>
<line x1="241.7" y1="580" x2="255" y2="563.3"/>
<line x1="250" y1="608.3" x2="270" y2="597.5"/>
<line x1="250" y1="655" x2="273.3" y2="649.2"/>
<line x1="245" y1="686.7" x2="257.5" y2="670"/>
<line x1="280.8" y1="683.3" x2="291.7" y2="652.5"/>
<line x1="306.7" y1="684.2" x2="310.8" y2="660.8"/>
<line x1="330.8" y1="685" x2="324.2" y2="664.2"/>
<line x1="342.5" y1="601.7" x2="349.7" y2="635.8"/>
<line x1="370" y1="614.2" x2="374.2" y2="645"/>
<line x1="393.3" y1="653.3" x2="383.3" y2="615.8"/>
<line x1="393.3" y1="653.3" x2="394.2" y2="618.3"/>
<line x1="411.7" y1="626.7" x2="420.8" y2="660"/>
<line x1="355.4" y1="509.2" x2="366.7" y2="503.75"/>
<line x1="445.6" y1="585" x2="436.7" y2="594.4"/>
<line x1="355" y1="523.75" x2="366.7" y2="517.1"/>
<line x1="246.7" y1="540" x2="259.2" y2="560.8"/>
</g>
</svg>
</body></html>
